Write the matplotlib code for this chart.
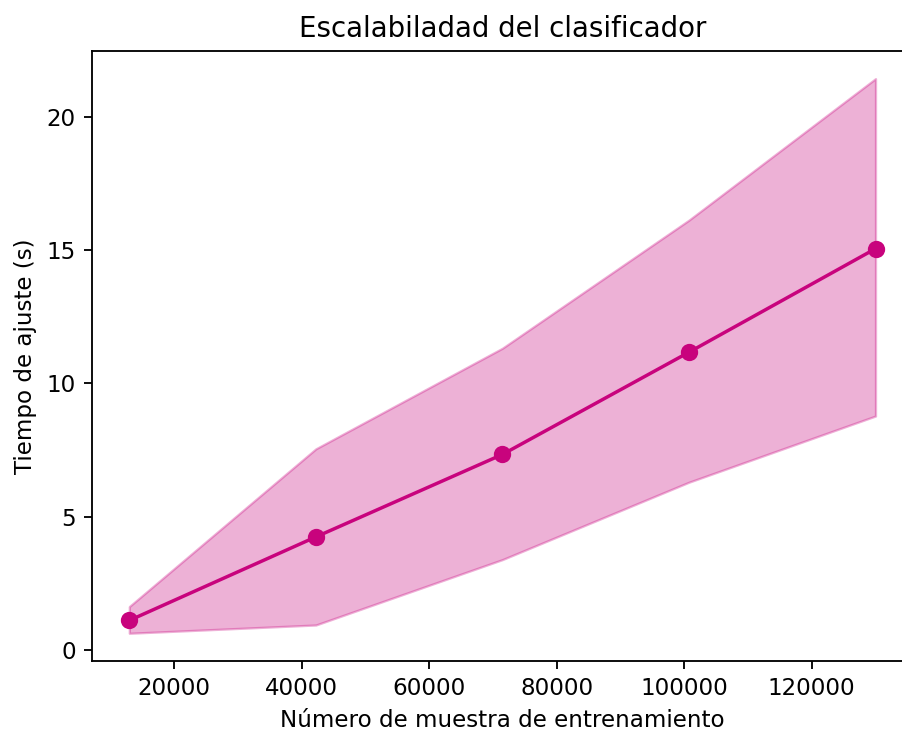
import numpy as np
import matplotlib
matplotlib.use("Agg")
import matplotlib.pyplot as plt

# Training sizes and fit times (mean +/- std)
train_sizes = [13000, 42250, 71500, 100750, 130000]
fit_mean = [1.12, 4.25, 7.34, 11.17, 15.05]
fit_upper = [1.64, 7.55, 11.32, 16.12, 21.42]
fit_lower = [0.64, 0.95, 3.40, 6.30, 8.78]

color = '#c8037d'
dpi = 166

fig = plt.figure(figsize=(902 / dpi, 735 / dpi), dpi=dpi)
ax = fig.add_axes([0.102, 0.1007, 0.910, 0.830])

ax.fill_between(train_sizes, fit_lower, fit_upper, color=color, alpha=0.31)
ax.plot(train_sizes, fit_mean, 'o-', color=color, markersize=6.5)

ax.set_title('Escalabiladad del clasificador')
ax.set_xlabel('Número de muestra de entrenamiento')
ax.set_ylabel('Tiempo de ajuste (s)')

fig.savefig('out.png', dpi=dpi)
